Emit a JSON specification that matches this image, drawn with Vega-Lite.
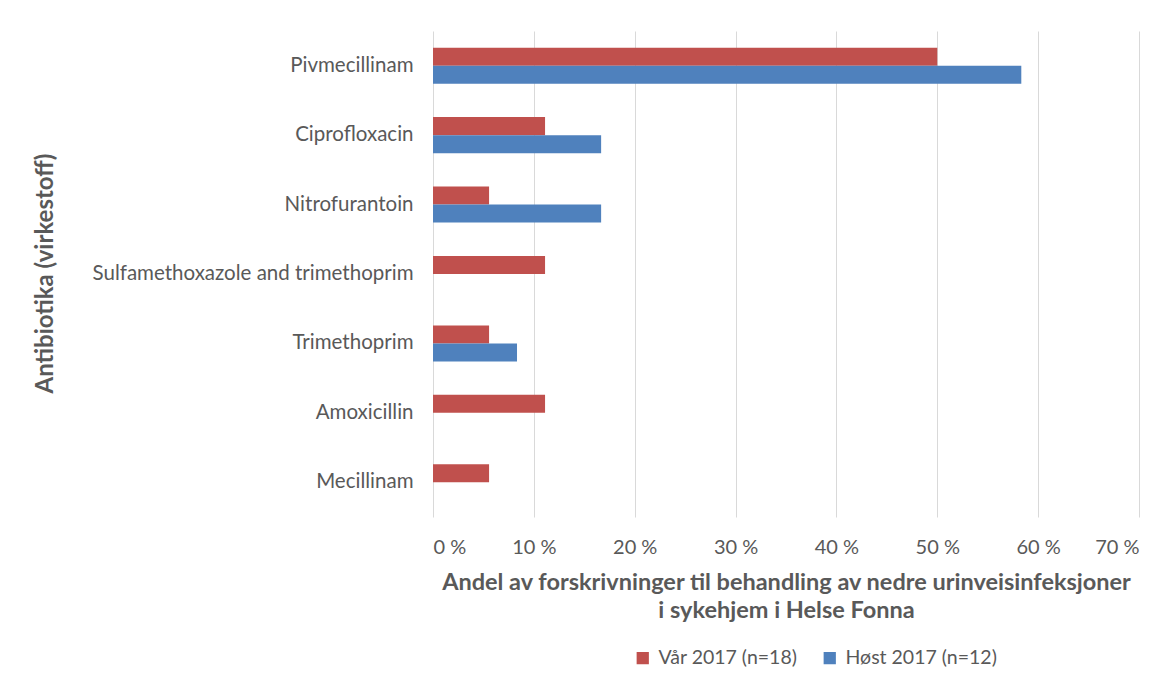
{
  "$schema": "https://vega.github.io/schema/vega-lite/v6.json",
  "width": 706,
  "height": 486,
  "autosize": {"type": "none"},
  "padding": {"left": 433, "top": 31, "right": 33, "bottom": 160},
  "background": "white",
  "data": {
    "values": [
      {"antibiotika": "Pivmecillinam", "periode": "Vår 2017 (n=18)", "andel": 50.0},
      {"antibiotika": "Pivmecillinam", "periode": "Høst 2017 (n=12)", "andel": 58.33},
      {"antibiotika": "Ciprofloxacin", "periode": "Vår 2017 (n=18)", "andel": 11.11},
      {"antibiotika": "Ciprofloxacin", "periode": "Høst 2017 (n=12)", "andel": 16.67},
      {"antibiotika": "Nitrofurantoin", "periode": "Vår 2017 (n=18)", "andel": 5.56},
      {"antibiotika": "Nitrofurantoin", "periode": "Høst 2017 (n=12)", "andel": 16.67},
      {"antibiotika": "Sulfamethoxazole and trimethoprim", "periode": "Vår 2017 (n=18)", "andel": 11.11},
      {"antibiotika": "Trimethoprim", "periode": "Vår 2017 (n=18)", "andel": 5.56},
      {"antibiotika": "Trimethoprim", "periode": "Høst 2017 (n=12)", "andel": 8.33},
      {"antibiotika": "Amoxicillin", "periode": "Vår 2017 (n=18)", "andel": 11.11},
      {"antibiotika": "Mecillinam", "periode": "Vår 2017 (n=18)", "andel": 5.56}
    ]
  },
  "mark": {"type": "bar"},
  "encoding": {
    "y": {
      "field": "antibiotika",
      "type": "nominal",
      "sort": ["Pivmecillinam", "Ciprofloxacin", "Nitrofurantoin", "Sulfamethoxazole and trimethoprim", "Trimethoprim", "Amoxicillin", "Mecillinam"],
      "scale": {"paddingInner": 0.48, "paddingOuter": 0.24},
      "axis": {
        "title": "Antibiotika (virkestoff)",
        "titleFont": "Lato",
        "titleFontSize": 24,
        "titleFontWeight": "bold",
        "titleColor": "#595959",
        "titleAngle": -90,
        "titleX": -388,
        "titleY": 242,
        "titleAlign": "center",
        "titleBaseline": "middle",
        "labelFont": "Lato",
        "labelFontSize": 20.5,
        "labelColor": "#595959",
        "labelPadding": 20,
        "labelLimit": 400,
        "domain": false,
        "ticks": false,
        "grid": false
      }
    },
    "yOffset": {
      "field": "periode",
      "type": "nominal",
      "sort": ["Vår 2017 (n=18)", "Høst 2017 (n=12)"]
    },
    "x": {
      "field": "andel",
      "type": "quantitative",
      "scale": {"domain": [0, 70], "nice": false},
      "axis": {
        "values": [0, 10, 20, 30, 40, 50, 60, 70],
        "labelExpr": "datum.value + ' %'",
        "title": ["Andel av forskrivninger til behandling  av nedre urinveisinfeksjoner", "i sykehjem i Helse Fonna"],
        "titleFont": "Lato",
        "titleFontSize": 23.5,
        "titleFontWeight": "bold",
        "titleColor": "#595959",
        "titleLineHeight": 28,
        "titlePadding": 13,
        "labelFont": "Lato",
        "labelFontSize": 20,
        "labelColor": "#595959",
        "labelPadding": 20,
        "domain": false,
        "ticks": false,
        "grid": true,
        "gridColor": "#D9D9D9",
        "gridWidth": 1
      }
    },
    "color": {
      "field": "periode",
      "type": "nominal",
      "sort": ["Vår 2017 (n=18)", "Høst 2017 (n=12)"],
      "scale": {"domain": ["Vår 2017 (n=18)", "Høst 2017 (n=12)"], "range": ["#C0504D", "#4F81BD"]},
      "legend": {
        "title": null,
        "orient": "none",
        "direction": "horizontal",
        "legendX": 200,
        "legendY": 617,
        "symbolType": "square",
        "symbolSize": 150,
        "symbolStrokeWidth": 0,
        "labelFont": "Lato",
        "labelFontSize": 19.5,
        "labelColor": "#595959",
        "columnPadding": 22,
        "labelOffset": 6
      }
    }
  },
  "config": {"view": {"stroke": null}}
}
